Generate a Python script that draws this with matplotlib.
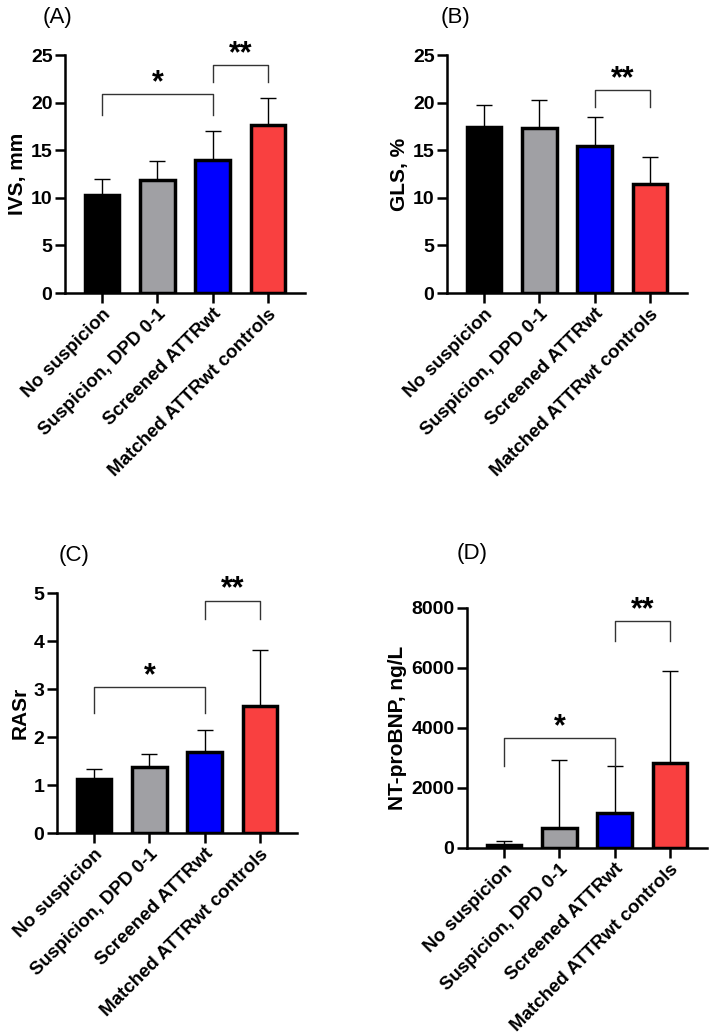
import matplotlib
matplotlib.use('Agg')
import numpy as np
import matplotlib.pyplot as plt

plt.rcParams['font.family'] = ['Liberation Sans', 'DejaVu Sans']

groups = ['No suspicion', 'Suspicion, DPD 0-1', 'Screened ATTRwt', 'Matched ATTRwt controls']
colors = ['#000000', '#a0a0a4', '#0000ff', '#f94040']

# mean and upper SD end, per panel
ivs_mean = [10.25, 11.9, 13.95, 17.65]
ivs_top = [11.95, 13.9, 17.0, 20.45]
gls_mean = [17.4, 17.3, 15.4, 11.4]
gls_top = [19.7, 20.25, 18.5, 14.3]
rasr_mean = [1.13, 1.375, 1.69, 2.64]
rasr_top = [1.33, 1.65, 2.15, 3.81]
bnp_mean = [90, 670, 1170, 2850]
bnp_top = [235, 2950, 2720, 5915]

# significance brackets: (left bar, right bar, bracket y, leg bottom y, label)
ivs_sig = [(0, 2, 20.9, 18.7, '*'), (2, 3, 23.95, 22.2, '**')]
gls_sig = [(2, 3, 21.3, 19.5, '**')]
rasr_sig = [(0, 2, 3.04, 2.5, '*'), (2, 3, 4.84, 4.46, '**')]
bnp_sig = [(0, 2, 3666, 2730, '*'), (2, 3, 7554, 6908, '**')]

panels = [
    ('(A)', 'IVS, mm', ivs_mean, ivs_top, ivs_sig, 25, [0, 5, 10, 15, 20, 25],
     [65, 55, 240, 238], (57, 18)),
    ('(B)', 'GLS, %', gls_mean, gls_top, gls_sig, 25, [0, 5, 10, 15, 20, 25],
     [447, 55, 240, 238], (455, 18)),
    ('(C)', 'RASr', rasr_mean, rasr_top, rasr_sig, 5, [0, 1, 2, 3, 4, 5],
     [57, 593, 240, 240], (74, 555)),
    ('(D)', 'NT-proBNP, ng/L', bnp_mean, bnp_top, bnp_sig, 8000, [0, 2000, 4000, 6000, 8000],
     [467, 608, 240, 240], (472, 554)),
]

W, H = 709, 1035
fig = plt.figure(figsize=(W / 100, H / 100), dpi=100)

for tag, ylab, mean, top, sig, ymax, yticks, box, tagpos in panels:
    x0, y0, w, h = box
    ax = fig.add_axes([x0 / W, 1 - (y0 + h) / H, w / W, h / H])
    x = np.arange(len(groups))
    ax.bar(x, mean, width=0.63, color=colors, edgecolor='black', linewidth=2.5, zorder=3)
    err = np.array(top) - np.array(mean)
    ax.errorbar(x, mean, yerr=[np.zeros(len(x)), err], fmt='none', ecolor='black',
                elinewidth=1.0, capsize=6, capthick=1.0, zorder=2)
    for a, b, yb, yl, lab in sig:
        ax.plot([a, a, b, b], [yl, yb, yb, yl], color='#333333', lw=1.0, clip_on=False)
        ax.text((a + b) / 2, yb - ymax * 0.016, lab, ha='center', va='bottom',
                fontsize=22, fontweight='bold', clip_on=False)
    ax.set_xlim(-0.67, 3.67)
    ax.set_ylim(0, ymax)
    ax.set_yticks(yticks)
    ax.set_xticks(x)
    ax.set_xticklabels(groups, rotation=45, ha='right', rotation_mode='anchor',
                       fontsize=13.5, fontweight='bold')
    for t in ax.get_yticklabels():
        t.set_fontweight('bold')
        t.set_fontsize(14)
    ax.set_ylabel(ylab, fontsize=15, fontweight='bold', labelpad=3)
    for s in ['top', 'right']:
        ax.spines[s].set_visible(False)
    for s in ['left', 'bottom']:
        ax.spines[s].set_linewidth(1.8)
    ax.tick_params(axis='both', length=7, width=1.8, pad=2)
    fig.text(tagpos[0] / W, 1 - tagpos[1] / H, tag, ha='center', va='center', fontsize=16)

fig.savefig('out.png', dpi=100)
